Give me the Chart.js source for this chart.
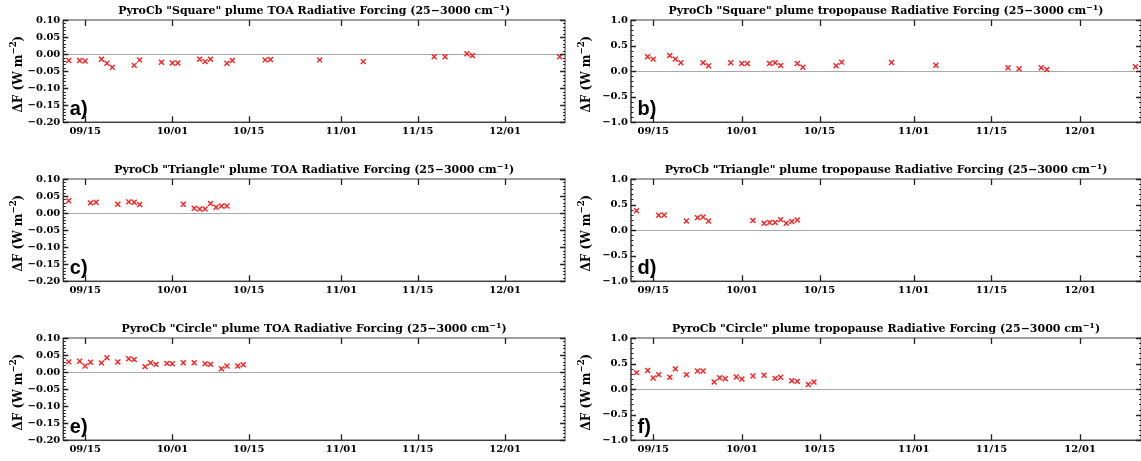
<!DOCTYPE html>
<html>
<head>
<meta charset="utf-8">
<script src="https://cdn.jsdelivr.net/npm/chart.js@4.4.1/dist/chart.umd.min.js"></script>
<style>
  html, body { margin: 0; padding: 0; background: #fff; overflow: hidden; width: 1141px; height: 461px; }
  .panel { position: absolute; }
</style>
</head>
<body>
<script>
// Observation dates (MM/DD) and radiative forcing (W m-2) for each pyroCb plume
const squareDates = ['09/12','09/14','09/15','09/18','09/19','09/20','09/24','09/25','09/29','10/01','10/02','10/06','10/07','10/08','10/11','10/12','10/18','10/19','10/28','11/05','11/18','11/20','11/24','11/25','12/11'];
const squareToa = [-0.019,-0.019,-0.020,-0.015,-0.027,-0.039,-0.033,-0.017,-0.024,-0.026,-0.026,-0.015,-0.022,-0.015,-0.027,-0.019,-0.017,-0.016,-0.017,-0.022,-0.0075,-0.0075,0.001,-0.004,-0.0075];
const squareTropoDates = ['09/14','09/15','09/18','09/19','09/20','09/24','09/25','09/29','10/01','10/02','10/06','10/07','10/08','10/11','10/12','10/18','10/19','10/28','11/05','11/18','11/20','11/24','11/25','12/11'];
const squareTropo = [0.28,0.235,0.306,0.235,0.163,0.163,0.104,0.163,0.15,0.15,0.15,0.163,0.11,0.15,0.078,0.104,0.176,0.17,0.117,0.065,0.046,0.065,0.033,0.085];

const triangleDates = ['09/12','09/16','09/17','09/21','09/23','09/24','09/25','10/03','10/05','10/06','10/07','10/08','10/09','10/10','10/11'];
const triangleToa = [0.036,0.030,0.032,0.026,0.033,0.032,0.025,0.026,0.014,0.012,0.012,0.028,0.017,0.021,0.021];
const triangleTropo = [0.38,0.29,0.297,0.18,0.245,0.258,0.18,0.187,0.135,0.148,0.148,0.206,0.135,0.168,0.20];

const circleDates = ['09/12','09/14','09/15','09/16','09/18','09/19','09/21','09/23','09/24','09/26','09/27','09/28','09/30','10/01','10/03','10/05','10/07','10/08','10/10','10/11','10/13','10/14'];
const circleToa = [0.030,0.032,0.018,0.029,0.027,0.042,0.0295,0.039,0.037,0.016,0.0275,0.0226,0.0256,0.0246,0.0275,0.0275,0.0246,0.0226,0.0098,0.0177,0.0177,0.0216];
const circleTropo = [0.323,0.363,0.218,0.284,0.231,0.396,0.284,0.356,0.356,0.139,0.224,0.205,0.238,0.198,0.257,0.27,0.211,0.231,0.165,0.152,0.092,0.139];

// Axis ticks and ranges
const dateTicks = ['09/15','10/01','10/15','11/01','11/15','12/01'];
const toaTicks = [-0.20,-0.15,-0.10,-0.05,0.00,0.05,0.10];
const tropoTicks = [-1.0,-0.5,0.0,0.5,1.0];
const axisStart = '09/11';
const axisEnd = '12/12';

// Days since 1 September
function dayOf(md) {
  const [m, d] = md.split('/').map(Number);
  return (Date.UTC(2017, m - 1, d) - Date.UTC(2017, 8, 1)) / 86400000;
}
const tickLabelByDay = {};
dateTicks.forEach(s => { tickLabelByDay[dayOf(s)] = s; });

const SERIF = '"DejaVu Serif", "Liberation Serif", serif';
const SANS = '"Liberation Sans", Arial, sans-serif';

const panels = [
  { tag: 'a)', plume: 'Square',   level: 'TOA',        dates: squareDates,      values: squareToa,     yTicks: toaTicks,   digits: 2, minor: 0.01, col: 0, row: 0 },
  { tag: 'b)', plume: 'Square',   level: 'tropopause', dates: squareTropoDates, values: squareTropo,   yTicks: tropoTicks, digits: 1, minor: 0.1,  col: 1, row: 0 },
  { tag: 'c)', plume: 'Triangle', level: 'TOA',        dates: triangleDates,    values: triangleToa,   yTicks: toaTicks,   digits: 2, minor: 0.01, col: 0, row: 1 },
  { tag: 'd)', plume: 'Triangle', level: 'tropopause', dates: triangleDates,    values: triangleTropo, yTicks: tropoTicks, digits: 1, minor: 0.1,  col: 1, row: 1 },
  { tag: 'e)', plume: 'Circle',   level: 'TOA',        dates: circleDates,      values: circleToa,     yTicks: toaTicks,   digits: 2, minor: 0.01, col: 0, row: 2 },
  { tag: 'f)', plume: 'Circle',   level: 'tropopause', dates: circleDates,      values: circleTropo,   yTicks: tropoTicks, digits: 1, minor: 0.1,  col: 1, row: 2 }
];

// Canvas placement and plot-area geometry per column / row
const colBox = [
  { x: 0,   w: 570, areaLeft: 63.3, areaRight: 567.7 },
  { x: 570, w: 576, areaLeft: 61,   areaRight: 573 }
];
const rowTop = [0, 159, 318];
const canvasH = 159;
const areaTop = 20;
const areaH = 102.3;

function fmt(v, digits) {
  const s = Math.abs(v).toFixed(digits);
  return (v < -1e-9 ? '\u2212' : '') + s;
}

// Frame, inward ticks, zero line, titles and panel letters
const decor = {
  id: 'decor',
  beforeDatasetsDraw(chart) {
    const { ctx, chartArea: a, scales: { y } } = chart;
    const y0 = Math.round(y.getPixelForValue(0)) + 0.5;
    ctx.save();
    ctx.strokeStyle = '#a9a9a9';
    ctx.lineWidth = 1;
    ctx.beginPath();
    ctx.moveTo(a.left, y0);
    ctx.lineTo(a.right, y0);
    ctx.stroke();
    ctx.restore();
  },
  afterDatasetsDraw(chart, args, o) {
    const { ctx, chartArea: a, scales: { x, y } } = chart;
    ctx.save();
    // frame
    ctx.strokeStyle = '#808080';
    ctx.lineWidth = 1.5;
    ctx.strokeRect(a.left, a.top, a.right - a.left, a.bottom - a.top);
    ctx.strokeStyle = '#303030';
    ctx.lineWidth = 1;
    ctx.beginPath();
    ctx.moveTo(a.left, a.top); ctx.lineTo(a.left, a.bottom); ctx.lineTo(a.right, a.bottom);
    ctx.stroke();
    // minor y ticks
    ctx.strokeStyle = '#202020';
    ctx.lineWidth = 1;
    const yMin = o.yTicks[0], yMax = o.yTicks[o.yTicks.length - 1];
    const n = Math.round((yMax - yMin) / o.minor);
    ctx.beginPath();
    for (let i = 0; i <= n; i++) {
      const py = Math.round(y.getPixelForValue(yMin + i * o.minor)) + 0.5;
      ctx.moveTo(a.left, py); ctx.lineTo(a.left + 2.5, py);
      ctx.moveTo(a.right, py); ctx.lineTo(a.right - 2, py);
    }
    ctx.stroke();
    // major y ticks
    ctx.lineWidth = 1.3;
    ctx.beginPath();
    o.yTicks.forEach(v => {
      const py = Math.round(y.getPixelForValue(v)) + 0.5;
      ctx.moveTo(a.left, py); ctx.lineTo(a.left + 5, py);
      ctx.moveTo(a.right, py); ctx.lineTo(a.right - 5, py);
    });
    // major x ticks
    dateTicks.forEach(s => {
      const px = Math.round(x.getPixelForValue(dayOf(s))) + 0.5;
      ctx.moveTo(px, a.bottom); ctx.lineTo(px, a.bottom - 6);
      ctx.moveTo(px, a.top); ctx.lineTo(px, a.top + 6);
    });
    ctx.stroke();
    ctx.restore();
  },
  afterDraw(chart, args, o) {
    const { ctx, chartArea: a } = chart;
    ctx.save();
    ctx.fillStyle = '#000';
    // title with superscript
    const main = 'PyroCb "' + o.plume + '" plume ' + o.level + ' Radiative Forcing (25\u22123000 cm';
    const sup = '\u22121';
    const tail = ')';
    const fMain = 'bold 11px ' + SERIF, fSup = 'bold 8px ' + SERIF;
    ctx.font = fMain; const w1 = ctx.measureText(main).width; const w3 = ctx.measureText(tail).width;
    ctx.font = fSup; const w2 = ctx.measureText(sup).width;
    let tx = (a.left + a.right) / 2 - (w1 + w2 + w3) / 2;
    const ty = a.top - 6;
    ctx.textBaseline = 'alphabetic'; ctx.textAlign = 'left';
    ctx.font = fMain; ctx.fillText(main, tx, ty); tx += w1;
    ctx.font = fSup; ctx.fillText(sup, tx, ty - 4.5); tx += w2;
    ctx.font = fMain; ctx.fillText(tail, tx, ty);
    // rotated y-axis title
    const yMain = '\u0394F (W m', ySup = '\u22122', yTail = ')';
    const fy = 'bold 12px ' + SERIF, fys = 'bold 8.5px ' + SERIF;
    ctx.font = fy; const v1 = ctx.measureText(yMain).width, v3 = ctx.measureText(yTail).width;
    ctx.font = fys; const v2 = ctx.measureText(ySup).width;
    ctx.translate(o.yTitleX, (a.top + a.bottom) / 2 + 3);
    ctx.rotate(-Math.PI / 2);
    let sx = -(v1 + v2 + v3) / 2;
    ctx.textBaseline = 'middle';
    ctx.font = fy; ctx.fillText(yMain, sx, 0); sx += v1;
    ctx.font = fys; ctx.fillText(ySup, sx, -5); sx += v2;
    ctx.font = fy; ctx.fillText(yTail, sx, 0);
    ctx.setTransform(1, 0, 0, 1, 0, 0);
    // panel letter
    ctx.font = 'bold 20px ' + SANS;
    ctx.textBaseline = 'alphabetic';
    ctx.fillText(o.tag, a.left + 6.5, a.bottom - 7.5);
    ctx.restore();
  }
};

panels.forEach(p => {
  const box = colBox[p.col];
  const div = document.createElement('div');
  div.className = 'panel';
  div.style.left = box.x + 'px';
  div.style.top = rowTop[p.row] + 'px';
  div.style.width = box.w + 'px';
  div.style.height = canvasH + 'px';
  const cv = document.createElement('canvas');
  cv.width = box.w; cv.height = canvasH;
  cv.style.width = box.w + 'px'; cv.style.height = canvasH + 'px';
  div.appendChild(cv);
  document.body.appendChild(div);

  const points = p.dates.map((d, i) => ({ x: dayOf(d), y: p.values[i] }));

  new Chart(cv.getContext('2d'), {
    type: 'scatter',
    data: {
      datasets: [{
        data: points,
        pointStyle: 'crossRot',
        pointRadius: 3.5,
        pointHoverRadius: 3.5,
        borderColor: '#ff1f1f',
        backgroundColor: '#ff1f1f',
        pointBorderWidth: 1.4,
        showLine: false
      }]
    },
    plugins: [decor],
    options: {
      responsive: false,
      animation: false,
      devicePixelRatio: 1,
      events: [],
      layout: { padding: { left: 0, top: areaTop, right: box.w - box.areaRight, bottom: 0 } },
      plugins: {
        legend: { display: false },
        tooltip: { enabled: false },
        title: { display: false },
        decor: {
          plume: p.plume, level: p.level, tag: p.tag, yTicks: p.yTicks, minor: p.minor,
          yTitleX: p.col === 0 ? 18.5 : 16.5
        }
      },
      scales: {
        x: {
          type: 'linear',
          min: dayOf(axisStart),
          max: dayOf(axisEnd),
          grid: { display: false, drawTicks: false },
          border: { display: false },
          afterBuildTicks: s => { s.ticks = dateTicks.map(t => ({ value: dayOf(t) })); },
          afterFit: s => { s.height = canvasH - areaTop - areaH; },
          ticks: {
            autoSkip: false, maxRotation: 0, padding: 3,
            color: '#000',
            font: { family: SERIF, size: 10, weight: 'bold' },
            callback: v => tickLabelByDay[v] || ''
          }
        },
        y: {
          type: 'linear',
          min: p.yTicks[0],
          max: p.yTicks[p.yTicks.length - 1],
          grid: { display: false, drawTicks: false },
          border: { display: false },
          afterBuildTicks: s => { s.ticks = p.yTicks.map(v => ({ value: v })); },
          afterFit: s => { s.width = box.areaLeft; },
          ticks: {
            padding: 3,
            color: '#000',
            font: { family: SERIF, size: 10, weight: 'bold' },
            callback: v => fmt(v, p.digits)
          }
        }
      }
    }
  });
});
</script>
</body>
</html>
